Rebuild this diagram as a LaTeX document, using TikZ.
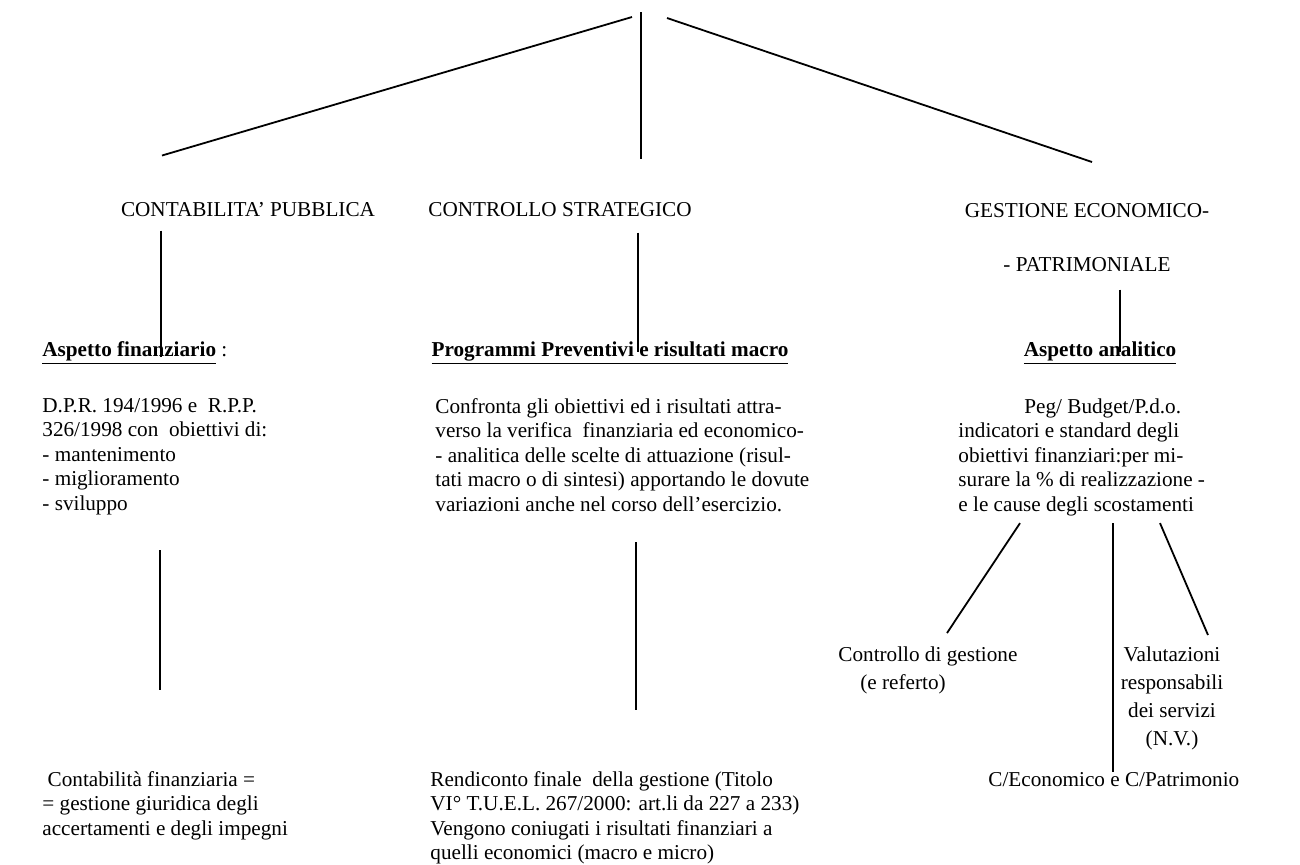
\documentclass[tikz,border=0pt]{standalone}
\usepackage{fontspec}
\setmainfont{Liberation Serif}
\usetikzlibrary{calc}

\begin{document}
\begin{tikzpicture}[
    x=0.5pt, y=-0.5pt,
    txt/.style={inner sep=0pt, font=\fontsize{10.6pt}{12.25pt}\selectfont},
    body/.style={txt, align=left, anchor=north west},
    head/.style={txt, anchor=base},
    branch/.style={line width=0.9pt, draw=black}
]
    \useasboundingbox (0,0) rectangle (1300,864);

    % titles
    \coordinate (apex) at (641,12);
    \node[head] (ctitle) at (248,216) {CONTABILITA' PUBBLICA};
    \node[head] (stitle) at (560,216) {CONTROLLO STRATEGICO};
    \node[txt, align=center, anchor=north] (gtitle) at (1087,203) {GESTIONE ECONOMICO-\\[15pt]- PATRIMONIALE};

    % headings
    \node[head, anchor=base west] (aspfin) at (42,356) {\textbf{\underline{Aspetto finanziario}} :};
    \node[head] (prog) at (610,356) {\textbf{\underline{Programmi Preventivi e risultati macro}}};
    \node[head] (aspan) at (1100,356) {\textbf{\underline{Aspetto analitico}}};

    % bodies
    \node[body] (finbody) at (42,398) {D.P.R. 194/1996 e \ R.P.P.\\326/1998 con \ obiettivi di:\\- mantenimento\\- miglioramento\\- sviluppo};
    \node[body] (progbody) at (435,398) {Confronta gli obiettivi ed i risultati attra-\\verso la verifica \ finanziaria ed economico-\\- analitica delle scelte di attuazione (risul-\\tati macro o di sintesi) apportando le dovute\\variazioni anche nel corso dell'esercizio.};
    \node[body] (anbody) at (958,398) {\hspace*{33pt}Peg/ Budget/P.d.o.\\indicatori e standard degli\\obiettivi finanziari:per mi-\\surare la \% di realizzazione -\\e le cause degli scostamenti};

    % results
    \node[body] (finres) at (42,771) {\ Contabilità finanziaria =\\= gestione giuridica degli\\accertamenti e degli impegni};
    \node[body] (rendic) at (430,771) {Rendiconto finale \ della gestione (Titolo\\VI° T.U.E.L. 267/2000: art.li da 227 a 233)\\Vengono coniugati i risultati finanziari a\\quelli economici (macro e micro)};
    \node[body, align=left, font=\fontsize{10.6pt}{14pt}\selectfont] (cdg) at (838,646) {Controllo di gestione\\\hspace*{11pt}(e referto)};
    \node[txt, align=center, anchor=north, font=\fontsize{10.6pt}{14pt}\selectfont] (valut) at (1172,646) {Valutazioni\\responsabili\\dei servizi\\(N.V.)};
    \node[head, anchor=base west] (cecon) at (988,786) {C/Economico e C/Patrimonio};

    % connectors
    \draw[branch] ($(apex)+(-9,5)$) -- ($(ctitle.north)+(-86,-46)$);
    \draw[branch] (apex) -- ($(stitle.north)+(81,-43)$);
    \draw[branch] ($(apex)+(26,6)$) -- ($(gtitle.north)+(5,-41)$);

    \draw[branch] ($(ctitle.south)+(-87,14)$) -- ($(aspfin.base west)+(119,1)$);
    \draw[branch] ($(stitle.south)+(78,16)$) -- ($(prog.base)+(28,-4)$);
    \draw[branch] ($(gtitle.south)+(33,17)$) -- ($(aspan.base)+(20,-4)$);

    \draw[branch] ($(finbody.south west)+(118,35)$) -- ($(finres.north west)+(118,-81)$);
    \draw[branch] ($(progbody.south west)+(201,30)$) -- ($(rendic.north west)+(206,-61)$);

    \draw[branch] ($(anbody.south west)+(62,7)$) -- ($(cdg.north west)+(109,-13)$);
    \draw[branch] ($(anbody.south west)+(155,7)$) -- ($(cecon.base west)+(125,-14)$);
    \draw[branch] ($(anbody.south west)+(202,7)$) -- ($(valut.north)+(36,-11)$);
\end{tikzpicture}
\end{document}
